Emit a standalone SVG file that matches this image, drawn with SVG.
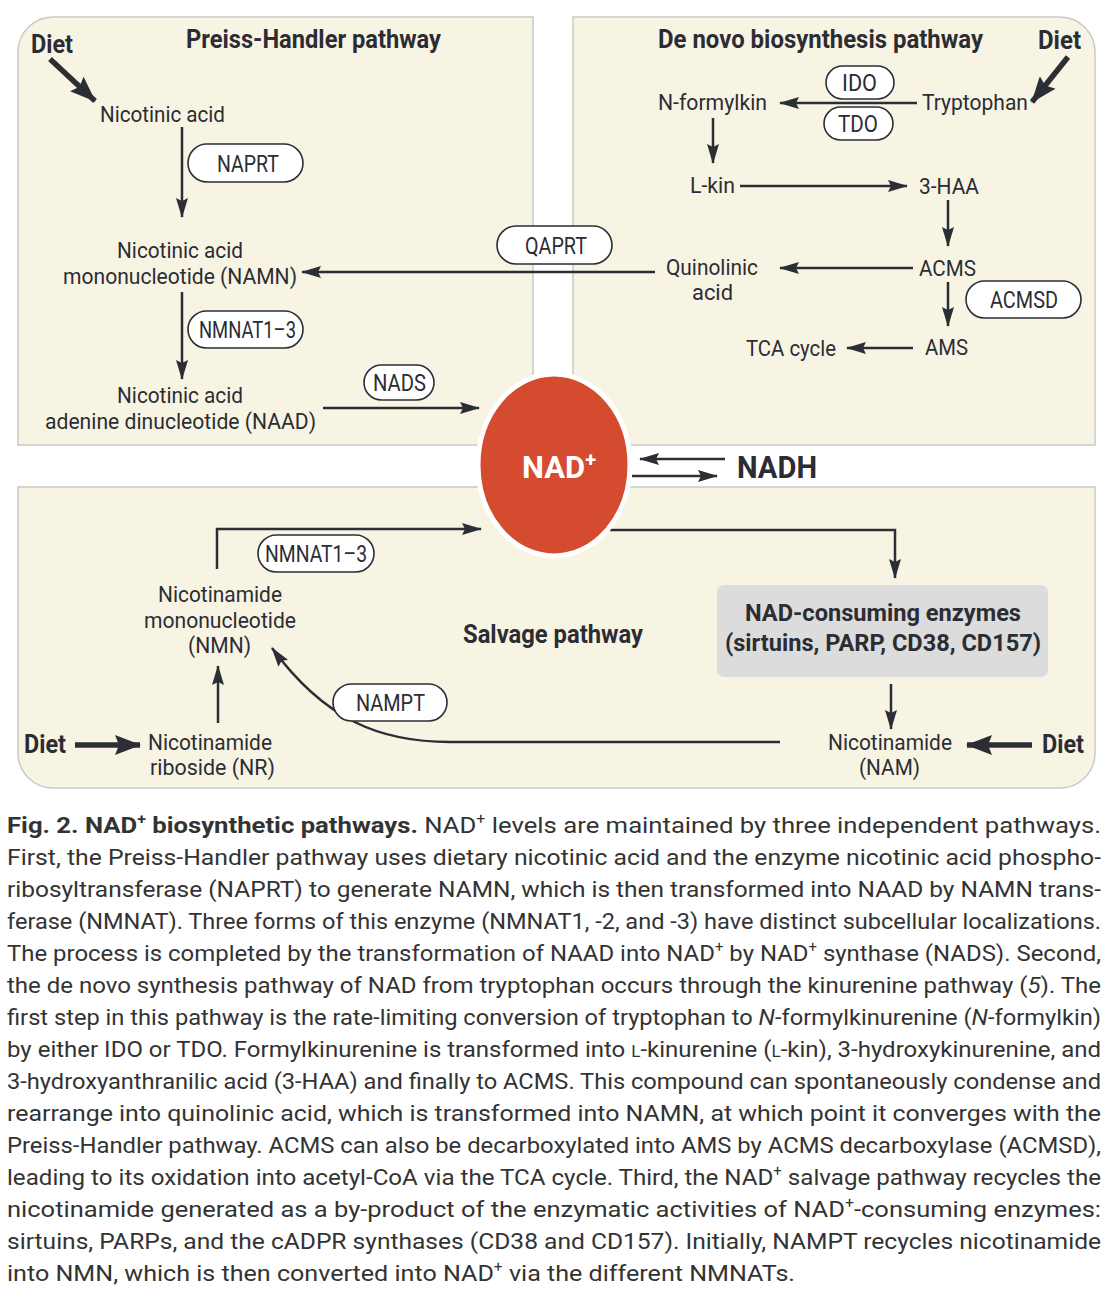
<svg xmlns="http://www.w3.org/2000/svg" width="1113" height="1291" viewBox="0 0 1113 1291">
<style>
.panel{fill:#f8f4e4;stroke:#c9c9c6;stroke-width:1.5}
.lbl{font-family:Roboto,"Liberation Sans",sans-serif;font-size:22px;fill:#2b2d33}
.ttl{font-family:Roboto,"Liberation Sans",sans-serif;font-size:25px;font-weight:bold;fill:#2b2d33}
.ttl2{font-family:Roboto,"Liberation Sans",sans-serif;font-size:24px;font-weight:bold;fill:#2b2d33}
.pill{fill:#ffffff;stroke:#2b2e35;stroke-width:1.6}
.ptx{font-family:Roboto,"Liberation Sans",sans-serif;font-size:23px;fill:#2b2d33}
.ln{fill:none;stroke:#2b2e35;stroke-width:2.5}
.arr{marker-end:url(#ah)}
.thick{fill:none;stroke:#2b2e35;stroke-width:5.5;marker-end:url(#ahb)}
.cap{font-family:Roboto,"Liberation Sans",sans-serif;font-size:22.5px;fill:#333333}
.b{font-weight:bold}
.i{font-style:italic}
</style>
<defs>
<marker id="ah" viewBox="0 0 20 12" refX="19" refY="6" markerWidth="20" markerHeight="12" markerUnits="userSpaceOnUse" orient="auto">
<path d="M0,0 L20,6 L0,12 L3,6 Z" fill="#2b2e35"/>
</marker>
<marker id="ahb" viewBox="0 0 26 20" refX="25" refY="10" markerWidth="26" markerHeight="20" markerUnits="userSpaceOnUse" orient="auto">
<path d="M0,0 L26,10 L0,20 L4,10 Z" fill="#2b2e35"/>
</marker>
</defs>
<rect width="1113" height="1291" fill="#ffffff"/>

<g id="panels">
<path class="panel" d="M18,445 V52 A35,35 0 0 1 53,17 H533 V445 Z"/>
<path class="panel" d="M573,17 H1060 A35,35 0 0 1 1095,52 V445 H573 Z"/>
<path class="panel" d="M18,487 H1095 V753 A35,35 0 0 1 1060,788 H53 A35,35 0 0 1 18,753 Z"/>
</g>

<g id="titles">
<text class="ttl" x="186" y="48" textLength="255" lengthAdjust="spacingAndGlyphs">Preiss-Handler pathway</text>
<text class="ttl" x="658" y="48" textLength="325" lengthAdjust="spacingAndGlyphs">De novo biosynthesis pathway</text>
<text class="ttl" x="463" y="643" textLength="180" lengthAdjust="spacingAndGlyphs">Salvage pathway</text>
</g>

<g id="connectors">
<line class="thick" x1="50" y1="59" x2="95" y2="101"/>
<line class="thick" x1="1068" y1="57" x2="1032" y2="102"/>
<line class="thick" x1="75" y1="745" x2="140" y2="745"/>
<line class="thick" x1="1032" y1="745" x2="967" y2="745"/>
<line class="ln arr" x1="182" y1="127" x2="182" y2="217"/>
<line class="ln arr" x1="182" y1="292" x2="182" y2="379"/>
<line class="ln arr" x1="655" y1="272" x2="302" y2="272"/>
<line class="ln arr" x1="323" y1="408" x2="479" y2="408"/>
<line class="ln arr" x1="917" y1="103" x2="780" y2="103"/>
<line class="ln arr" x1="713" y1="118" x2="713" y2="163"/>
<line class="ln arr" x1="740" y1="186" x2="907" y2="186"/>
<line class="ln arr" x1="948" y1="200" x2="948" y2="246"/>
<line class="ln arr" x1="913" y1="268" x2="780" y2="268"/>
<line class="ln arr" x1="948" y1="282" x2="948" y2="326"/>
<line class="ln arr" x1="913" y1="348" x2="847" y2="348"/>
<line class="ln arr" x1="725" y1="459" x2="640" y2="459"/>
<line class="ln arr" x1="632" y1="476" x2="717" y2="476"/>
<polyline class="ln arr" points="217,569 217,529 481,529"/>
<polyline class="ln arr" points="610,530 895,530 895,578"/>
<line class="ln arr" x1="891" y1="684" x2="891" y2="729"/>
<line class="ln arr" x1="218" y1="723" x2="218" y2="666"/>
<path class="ln arr" d="M780,742 H450 C380,742 325,720 272,648"/>
</g>

<g id="nad">
<ellipse cx="554" cy="465" rx="76" ry="91" fill="#d54b2f" stroke="#ffffff" stroke-width="5"/>
<text x="522" y="478" font-family="Roboto,'Liberation Sans',sans-serif" font-size="31" font-weight="bold" fill="#ffffff">NAD<tspan font-size="20" dy="-11">+</tspan></text>
</g>
<g id="nadh">
<text x="737" y="478" font-family="Roboto,'Liberation Sans',sans-serif" font-size="31" font-weight="bold" fill="#2b2d33" textLength="80" lengthAdjust="spacingAndGlyphs">NADH</text>
</g>

<g id="diet-labels">
<text class="ttl" x="31" y="53" textLength="42" lengthAdjust="spacingAndGlyphs">Diet</text>
<text class="ttl" x="1038" y="49" textLength="43" lengthAdjust="spacingAndGlyphs">Diet</text>
<text class="ttl" x="24" y="753" textLength="42" lengthAdjust="spacingAndGlyphs">Diet</text>
<text class="ttl" x="1042" y="753" textLength="42" lengthAdjust="spacingAndGlyphs">Diet</text>
</g>

<g id="nicotinic-acid"><text class="lbl" x="100" y="122" textLength="125" lengthAdjust="spacingAndGlyphs">Nicotinic acid</text></g>
<g id="namn">
<text class="lbl" x="117" y="258" textLength="126" lengthAdjust="spacingAndGlyphs">Nicotinic acid</text>
<text class="lbl" x="63" y="284" textLength="234" lengthAdjust="spacingAndGlyphs">mononucleotide (NAMN)</text>
</g>
<g id="naad">
<text class="lbl" x="117" y="403" textLength="126" lengthAdjust="spacingAndGlyphs">Nicotinic acid</text>
<text class="lbl" x="45" y="429" textLength="271" lengthAdjust="spacingAndGlyphs">adenine dinucleotide (NAAD)</text>
</g>
<g id="naprt"><rect class="pill" x="188" y="144" width="115" height="38" rx="19"/><text class="ptx" x="217" y="172" textLength="62" lengthAdjust="spacingAndGlyphs">NAPRT</text></g>
<g id="qaprt"><rect class="pill" x="497" y="226" width="115" height="38" rx="19"/><text class="ptx" x="525" y="254" textLength="62" lengthAdjust="spacingAndGlyphs">QAPRT</text></g>
<g id="nmnat-top"><rect class="pill" x="188" y="311" width="115" height="37" rx="18.5"/><text class="ptx" x="199" y="338" textLength="97" lengthAdjust="spacingAndGlyphs">NMNAT1–3</text></g>
<g id="nads"><rect class="pill" x="364" y="365" width="70" height="35" rx="17.5"/><text class="ptx" x="373" y="391" textLength="53" lengthAdjust="spacingAndGlyphs">NADS</text></g>

<g id="tryptophan"><text class="lbl" x="922" y="110" textLength="106" lengthAdjust="spacingAndGlyphs">Tryptophan</text></g>
<g id="nformylkin"><text class="lbl" x="658" y="110" textLength="109" lengthAdjust="spacingAndGlyphs">N-formylkin</text></g>
<g id="ido"><rect class="pill" x="826" y="66" width="68" height="33" rx="16.5"/><text class="ptx" x="842" y="91" textLength="35" lengthAdjust="spacingAndGlyphs">IDO</text></g>
<g id="tdo"><rect class="pill" x="824" y="107" width="69" height="33" rx="16.5"/><text class="ptx" x="838" y="132" textLength="40" lengthAdjust="spacingAndGlyphs">TDO</text></g>
<g id="lkin"><text class="lbl" x="690" y="193" textLength="45" lengthAdjust="spacingAndGlyphs">L-kin</text></g>
<g id="haa"><text class="lbl" x="919" y="194" textLength="60" lengthAdjust="spacingAndGlyphs">3-HAA</text></g>
<g id="acms"><text class="lbl" x="919" y="276" textLength="57" lengthAdjust="spacingAndGlyphs">ACMS</text></g>
<g id="quinolinic">
<text class="lbl" x="666" y="275" textLength="92" lengthAdjust="spacingAndGlyphs">Quinolinic</text>
<text class="lbl" x="692" y="300" textLength="41" lengthAdjust="spacingAndGlyphs">acid</text>
</g>
<g id="acmsd"><rect class="pill" x="966" y="281" width="115" height="37" rx="18.5"/><text class="ptx" x="990" y="308" textLength="68" lengthAdjust="spacingAndGlyphs">ACMSD</text></g>
<g id="ams"><text class="lbl" x="925" y="355" textLength="43" lengthAdjust="spacingAndGlyphs">AMS</text></g>
<g id="tca"><text class="lbl" x="746" y="356" textLength="90" lengthAdjust="spacingAndGlyphs">TCA cycle</text></g>

<g id="nmn">
<text class="lbl" x="158" y="602" textLength="124" lengthAdjust="spacingAndGlyphs">Nicotinamide</text>
<text class="lbl" x="144" y="628" textLength="152" lengthAdjust="spacingAndGlyphs">mononucleotide</text>
<text class="lbl" x="188" y="653" textLength="63" lengthAdjust="spacingAndGlyphs">(NMN)</text>
</g>
<g id="nmnat-bottom"><rect class="pill" x="258" y="535" width="116" height="37" rx="18.5"/><text class="ptx" x="265" y="562" textLength="102" lengthAdjust="spacingAndGlyphs">NMNAT1–3</text></g>
<g id="nampt"><rect class="pill" x="333" y="684" width="114" height="37" rx="18.5"/><text class="ptx" x="356" y="711" textLength="69" lengthAdjust="spacingAndGlyphs">NAMPT</text></g>
<g id="nr">
<text class="lbl" x="148" y="750" textLength="124" lengthAdjust="spacingAndGlyphs">Nicotinamide</text>
<text class="lbl" x="150" y="775" textLength="125" lengthAdjust="spacingAndGlyphs">riboside (NR)</text>
</g>
<g id="nad-consuming">
<rect x="717" y="585" width="331" height="92" rx="7" fill="#dcdcdc"/>
<text class="ttl2" x="745" y="621" textLength="276" lengthAdjust="spacingAndGlyphs">NAD-consuming enzymes</text>
<text class="ttl2" x="725" y="651" textLength="316" lengthAdjust="spacingAndGlyphs">(sirtuins, PARP, CD38, CD157)</text>
</g>
<g id="nam">
<text class="lbl" x="828" y="750" textLength="124" lengthAdjust="spacingAndGlyphs">Nicotinamide</text>
<text class="lbl" x="859" y="775" textLength="61" lengthAdjust="spacingAndGlyphs">(NAM)</text>
</g>

<g id="caption">
<text class="cap" x="7" y="833" textLength="1094" lengthAdjust="spacingAndGlyphs"><tspan class="b">Fig. 2. NAD</tspan><tspan class="b" font-size="14" dy="-9">+</tspan><tspan class="b" dy="9"> biosynthetic pathways.</tspan> NAD<tspan font-size="14" dy="-9">+</tspan><tspan dy="9"> levels are maintained by three independent pathways.</tspan></text>
<text class="cap" x="7" y="865" textLength="1094" lengthAdjust="spacingAndGlyphs">First, the Preiss-Handler pathway uses dietary nicotinic acid and the enzyme nicotinic acid phospho-</text>
<text class="cap" x="7" y="897" textLength="1094" lengthAdjust="spacingAndGlyphs">ribosyltransferase (NAPRT) to generate NAMN, which is then transformed into NAAD by NAMN trans-</text>
<text class="cap" x="7" y="929" textLength="1094" lengthAdjust="spacingAndGlyphs">ferase (NMNAT). Three forms of this enzyme (NMNAT1, -2, and -3) have distinct subcellular localizations.</text>
<text class="cap" x="7" y="961" textLength="1094" lengthAdjust="spacingAndGlyphs">The process is completed by the transformation of NAAD into NAD<tspan font-size="14" dy="-9">+</tspan><tspan dy="9"> by NAD</tspan><tspan font-size="14" dy="-9">+</tspan><tspan dy="9"> synthase (NADS). Second,</tspan></text>
<text class="cap" x="7" y="993" textLength="1094" lengthAdjust="spacingAndGlyphs">the de novo synthesis pathway of NAD from tryptophan occurs through the kinurenine pathway (<tspan class="i">5</tspan>). The</text>
<text class="cap" x="7" y="1025" textLength="1094" lengthAdjust="spacingAndGlyphs">first step in this pathway is the rate-limiting conversion of tryptophan to <tspan class="i">N</tspan>-formylkinurenine (<tspan class="i">N</tspan>-formylkin)</text>
<text class="cap" x="7" y="1057" textLength="1094" lengthAdjust="spacingAndGlyphs">by either IDO or TDO. Formylkinurenine is transformed into <tspan font-size="16">L</tspan>-kinurenine (<tspan font-size="16">L</tspan>-kin), 3-hydroxykinurenine, and</text>
<text class="cap" x="7" y="1089" textLength="1094" lengthAdjust="spacingAndGlyphs">3-hydroxyanthranilic acid (3-HAA) and finally to ACMS. This compound can spontaneously condense and</text>
<text class="cap" x="7" y="1121" textLength="1094" lengthAdjust="spacingAndGlyphs">rearrange into quinolinic acid, which is transformed into NAMN, at which point it converges with the</text>
<text class="cap" x="7" y="1153" textLength="1094" lengthAdjust="spacingAndGlyphs">Preiss-Handler pathway. ACMS can also be decarboxylated into AMS by ACMS decarboxylase (ACMSD),</text>
<text class="cap" x="7" y="1185" textLength="1094" lengthAdjust="spacingAndGlyphs">leading to its oxidation into acetyl-CoA via the TCA cycle. Third, the NAD<tspan font-size="14" dy="-9">+</tspan><tspan dy="9"> salvage pathway recycles the</tspan></text>
<text class="cap" x="7" y="1217" textLength="1094" lengthAdjust="spacingAndGlyphs">nicotinamide generated as a by-product of the enzymatic activities of NAD<tspan font-size="14" dy="-9">+</tspan><tspan dy="9">-consuming enzymes:</tspan></text>
<text class="cap" x="7" y="1249" textLength="1094" lengthAdjust="spacingAndGlyphs">sirtuins, PARPs, and the cADPR synthases (CD38 and CD157). Initially, NAMPT recycles nicotinamide</text>
<text class="cap" x="7" y="1281" textLength="788" lengthAdjust="spacingAndGlyphs">into NMN, which is then converted into NAD<tspan font-size="14" dy="-9">+</tspan><tspan dy="9"> via the different NMNATs.</tspan></text>
</g>
</svg>
